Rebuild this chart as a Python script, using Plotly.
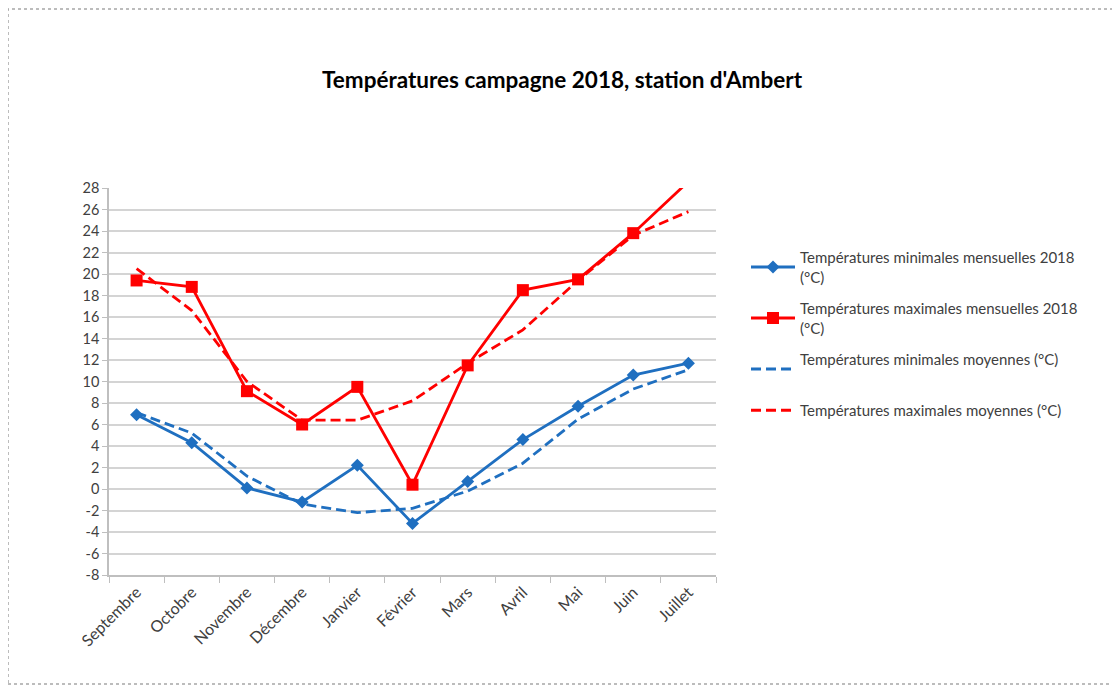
import plotly.graph_objects as go

months = ["Septembre", "Octobre", "Novembre", "Décembre", "Janvier", "Février",
          "Mars", "Avril", "Mai", "Juin", "Juillet"]
tmin_2018 = [6.9, 4.3, 0.1, -1.2, 2.2, -3.2, 0.7, 4.6, 7.7, 10.6, 11.7]
tmax_2018 = [19.4, 18.8, 9.1, 6.0, 9.5, 0.4, 11.5, 18.5, 19.5, 23.8, 28.6]
tmin_moy = [7.1, 5.2, 1.2, -1.4, -2.2, -1.8, -0.2, 2.4, 6.5, 9.3, 11.1]
tmax_moy = [20.5, 16.6, 10.0, 6.4, 6.4, 8.2, 11.7, 14.8, 19.4, 23.6, 25.8]
y_ticks = list(range(-8, 30, 2))
y_labels = [str(v) for v in y_ticks]

BLUE = "#1f6fc0"
RED = "#ff0000"
FONT = "Lato, Carlito, Calibri, sans-serif"
DASH = "10px,5px"

# page body adds an 8px offset; figure sized to compensate
W, H = 1112, 679
L, T = 101, 180
PW, PH = 607, 387

fig = go.Figure()
fig.add_trace(go.Scatter(
    x=months, y=tmin_2018, mode="lines+markers",
    name="Températures minimales mensuelles 2018<br>(°C)",
    line=dict(color=BLUE, width=2.8),
    marker=dict(symbol="diamond", size=10, color=BLUE),
    legendgroup="a"))
fig.add_trace(go.Scatter(
    x=months, y=tmax_2018, mode="lines+markers",
    name="Températures maximales mensuelles 2018<br>(°C)",
    line=dict(color=RED, width=2.8),
    marker=dict(symbol="square", size=12, color=RED),
    legendgroup="b"))
fig.add_trace(go.Scatter(
    x=months, y=tmin_moy, mode="lines",
    name="Températures minimales moyennes (°C)<br> ",
    line=dict(color=BLUE, width=2.8, dash=DASH),
    legendgroup="c"))
fig.add_trace(go.Scatter(
    x=months, y=tmax_moy, mode="lines",
    name="Températures maximales moyennes (°C)",
    line=dict(color=RED, width=2.8, dash=DASH),
    legendgroup="d"))

fig.update_layout(
    width=W, height=H,
    margin=dict(l=L, r=W - L - PW, t=T, b=H - T - PH),
    paper_bgcolor="white", plot_bgcolor="white",
    font=dict(family=FONT, color="#404040", size=14),
    title=dict(text="<b>Températures campagne 2018, station d'Ambert</b>",
               x=(554 / W), xanchor="center", y=1 - 72 / H, yanchor="middle",
               font=dict(family=FONT, size=22.5, color="#000000")),
    showlegend=True,
    legend=dict(x=(738 - L) / PW, y=(T + PH - 233) / PH, xanchor="left", yanchor="top",
                font=dict(family=FONT, size=15, color="#404040"),
                tracegroupgap=9, itemwidth=44, bgcolor="rgba(0,0,0,0)"),
)
fig.update_xaxes(
    type="category", showgrid=False, showline=True, linecolor="#bfbfbf", linewidth=1.5,
    ticks="outside", tickson="boundaries", ticklen=6, tickcolor="#bfbfbf",
    tickangle=-45, tickfont=dict(family=FONT, size=16, color="#404040"),
    range=[-0.5, 10.5])
fig.update_yaxes(
    range=[-8, 28], tickvals=y_ticks, ticktext=y_labels, showgrid=True,
    gridcolor="#d4d4d4", gridwidth=2,
    showline=True, linecolor="#bfbfbf", linewidth=1.5, ticks="outside", ticklen=5,
    tickcolor="#bfbfbf", zeroline=False,
    tickfont=dict(family=FONT, size=14.5, color="#404040"))

# outer frame
fig.add_shape(type="rect", xref="paper", yref="paper",
              x0=(0 - L) / PW, x1=(1106 - L) / PW,
              y0=(T + PH - 676) / PH, y1=(T + PH - 1) / PH,
              line=dict(color="#a6a6a6", width=1.5, dash="dot"), layer="below")

fig.write_html("out.html")
